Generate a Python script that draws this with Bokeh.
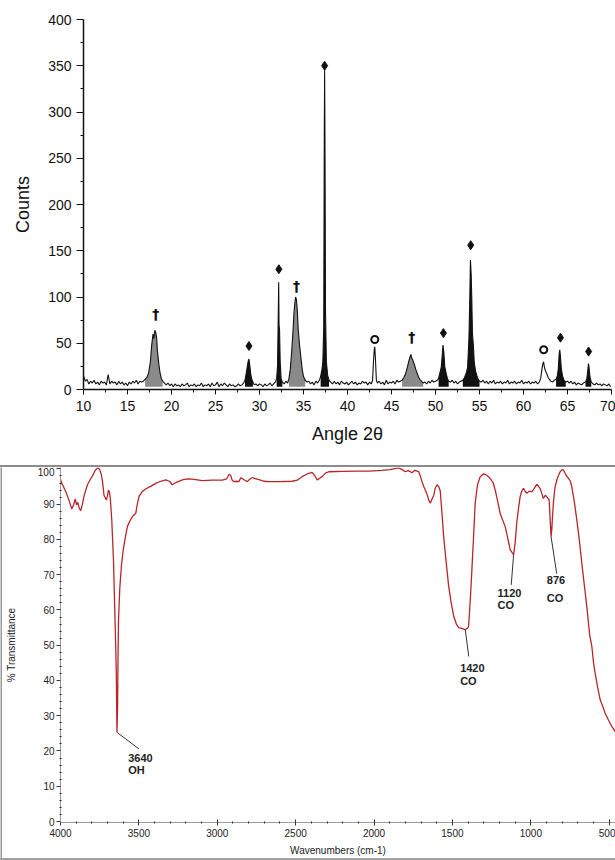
from bokeh.plotting import figure
from bokeh.layouts import column, row
from bokeh.models import FixedTicker, Range1d, Div
from bokeh.embed import file_html
from bokeh.resources import INLINE
from bokeh.core.properties import value

# ---------------- XRD data ----------------
xrd_angle = [
    10.0, 10.2, 10.4, 10.6, 10.8, 11.0, 11.2, 11.4, 11.6, 11.8,
    12.0, 12.2, 12.4, 12.6, 12.8, 13.0, 13.2, 13.4, 13.6, 13.8,
    14.0, 14.2, 14.4, 14.6, 14.8, 15.0, 15.2, 15.4, 15.6, 15.8,
    16.0, 16.2, 16.4, 16.6,
    16.8, 17.0, 17.2, 17.4, 17.6, 17.75, 17.9, 18.0, 18.1, 18.2, 18.3, 18.4, 18.55, 18.7, 18.85, 19.0, 19.2,
    19.4, 19.6, 19.8, 20.0, 20.2, 20.4, 20.6, 20.8, 21.0, 21.2,
    21.4, 21.6, 21.8, 22.0, 22.2, 22.4, 22.6, 22.8, 23.0, 23.2,
    23.4, 23.6, 23.8, 24.0, 24.2, 24.4, 24.6, 24.8, 25.0, 25.2,
    25.4, 25.6, 25.8, 26.0, 26.2, 26.4, 26.6, 26.8, 27.0, 27.2,
    27.4, 27.6, 27.8, 28.0, 28.2,
    28.35, 28.5, 28.6, 28.7, 28.8, 28.9, 29.0, 29.1, 29.25,
    29.4, 29.6, 29.8, 30.0, 30.2, 30.4, 30.6, 30.8, 31.0, 31.2, 31.4, 31.6, 31.8,
    31.95, 32.05, 32.12, 32.18, 32.22, 32.28, 32.35, 32.45, 32.6,
    32.8, 33.0, 33.2,
    33.35, 33.5, 33.65, 33.8, 33.9, 34.0, 34.1, 34.2, 34.3, 34.4, 34.55, 34.7, 34.85, 35.0, 35.2, 35.4,
    35.6, 35.8, 36.0, 36.2, 36.4, 36.6, 36.8,
    36.95, 37.1, 37.2, 37.3, 37.36, 37.4, 37.44, 37.5, 37.6, 37.75, 37.9,
    38.1, 38.3, 38.5, 38.7, 38.9, 39.1, 39.3, 39.5, 39.7, 39.9,
    40.1, 40.3, 40.5, 40.7, 40.9, 41.1, 41.3, 41.5, 41.7, 41.9,
    42.1, 42.3, 42.5, 42.7,
    42.85, 42.95, 43.05, 43.1, 43.18, 43.28, 43.4,
    43.6, 43.8, 44.0, 44.2, 44.4, 44.6, 44.8, 45.0, 45.2, 45.4, 45.6, 45.8, 46.0,
    46.2, 46.4, 46.6, 46.8, 46.95, 47.1, 47.2, 47.3, 47.45, 47.6, 47.75, 47.9, 48.05, 48.2, 48.4, 48.6,
    48.8, 49.0, 49.2, 49.4, 49.6, 49.8, 50.0, 50.2,
    50.35, 50.5, 50.65, 50.75, 50.85, 50.95, 51.05, 51.2, 51.35, 51.5,
    51.7, 51.9, 52.1, 52.3, 52.5, 52.7, 52.9,
    53.1, 53.3, 53.5, 53.65, 53.8, 53.9, 53.97, 54.05, 54.12, 54.2, 54.3, 54.4, 54.55, 54.7, 54.85, 55.0,
    55.2, 55.4, 55.6, 55.8, 56.0, 56.2, 56.4, 56.6, 56.8, 57.0,
    57.2, 57.4, 57.6, 57.8, 58.0, 58.2, 58.4, 58.6, 58.8, 59.0,
    59.2, 59.4, 59.6, 59.8, 60.0, 60.2, 60.4, 60.6, 60.8, 61.0,
    61.2, 61.4, 61.6, 61.8,
    61.95, 62.1, 62.2, 62.28, 62.38, 62.5, 62.65, 62.8, 62.95, 63.1,
    63.3, 63.5,
    63.7, 63.85, 63.95, 64.05, 64.12, 64.2, 64.3, 64.45, 64.6, 64.8,
    65.0, 65.2, 65.4, 65.6, 65.8, 66.0, 66.2, 66.4, 66.6, 66.8,
    67.05, 67.2, 67.3, 67.38, 67.45, 67.55, 67.7,
    67.9, 68.1, 68.3, 68.5, 68.7, 68.9, 69.1, 69.3, 69.5, 69.7, 69.9,
]
xrd_counts = [
    15, 9, 11, 6, 9, 7, 10, 6, 8, 5,
    9, 7, 8, 5, 16, 6, 9, 7, 8, 5,
    9, 6, 8, 5, 7, 4, 8, 6, 9, 7,
    10, 6, 9, 8,
    9, 11, 13, 18, 30, 48, 60, 55, 64, 62, 57, 42, 28, 18, 12, 9, 7,
    5, 7, 4, 6, 3, 6, 4, 5, 3, 6,
    4, 5, 7, 3, 5, 4, 6, 3, 5, 4,
    7, 3, 5, 4, 6, 3, 7, 4, 5, 8,
    3, 6, 4, 7, 5, 3, 6, 4, 5, 3,
    4, 6, 4, 5, 7,
    10, 18, 24, 30, 33, 26, 17, 12, 8,
    5, 6, 4, 6, 5, 3, 6, 4, 5, 7, 4, 6, 8,
    12, 25, 72, 116, 70, 64, 30, 12, 8,
    6, 9, 7,
    12, 22, 40, 62, 80, 92, 100, 97, 85, 65, 48, 35, 22, 14, 10, 8,
    9, 6, 8, 5, 9, 7, 10,
    14, 22, 30, 68, 270, 345, 272, 85, 30, 15, 10,
    8, 6, 9, 6, 8, 5, 9, 7, 6, 8,
    5, 7, 9, 6, 8, 5, 7, 6, 9, 7,
    8, 5, 8, 6,
    10, 30, 44, 46, 32, 10, 7,
    9, 6, 8, 5, 10, 6, 8, 7, 9, 6, 10, 8, 9,
    10, 13, 17, 24, 30, 35, 38, 34, 31, 27, 22, 18, 14, 11, 9, 7,
    8, 6, 9, 7, 10, 8, 9, 10,
    12, 18, 24, 35, 48, 40, 25, 18, 12, 9,
    8, 10, 7, 9, 6, 8, 9,
    10, 13, 18, 24, 55, 100, 140, 125, 100, 60, 48, 30, 20, 15, 11, 9,
    8, 10, 7, 9, 6, 9, 7, 10, 6, 8,
    7, 9, 6, 8, 7, 10, 6, 8, 7, 9,
    6, 8, 7, 10, 6, 8, 7, 9, 6, 8,
    7, 9, 6, 8,
    12, 22, 28, 30, 24, 20, 17, 13, 11, 9,
    8, 10,
    11, 15, 22, 38, 43, 36, 22, 14, 10, 8,
    9, 7, 9, 6, 8, 5, 7, 6, 5, 7,
    8, 12, 20, 28, 24, 14, 8,
    6, 5, 7, 5, 6, 4, 6, 5, 4, 6, 3,
]
assert len(xrd_angle) == len(xrd_counts)

fill_start = [17.0, 28.35, 31.95, 33.35, 36.95, 46.2, 50.35, 53.1, 63.7, 67.05]
fill_end = [19.0, 29.25, 32.6, 35.2, 37.9, 48.6, 51.5, 55.0, 64.8, 67.7]
fill_kind = ["gray", "black", "black", "gray", "black", "gray", "black", "black", "black", "black"]
fill_base = 3

diamond_angle = [28.8, 32.2, 37.4, 50.9, 54.0, 64.2, 67.4]
diamond_counts = [47, 130, 350, 61, 156, 56, 41]
dagger_angle = [18.2, 34.2, 47.3]
dagger_counts = [82, 112, 57]
circle_angle = [43.1, 62.3]
circle_counts = [54, 43]

xrd_xticks = [10, 15, 20, 25, 30, 35, 40, 45, 50, 55, 60, 65, 70]
xrd_xminor = [12.5, 17.5, 22.5, 27.5, 32.5, 37.5, 42.5, 47.5, 52.5, 57.5, 62.5, 67.5]
xrd_yticks = [0, 50, 100, 150, 200, 250, 300, 350, 400]
xrd_yminor = [25, 75, 125, 175, 225, 275, 325, 375]

# ---------------- IR data ----------------
ir_wavenumber = [
    4000, 3992, 3966, 3945, 3928, 3915, 3906, 3898, 3890, 3880, 3871, 3860, 3849, 3828, 3810,
    3796, 3780, 3764, 3750, 3740, 3732, 3722, 3707, 3700, 3694, 3688, 3682, 3673, 3662, 3655,
    3648, 3644, 3640, 3636, 3633, 3630, 3622, 3612, 3600, 3594, 3585, 3573, 3560, 3541, 3520,
    3510, 3499, 3480, 3457, 3420, 3393, 3360, 3329, 3305, 3287, 3260, 3223, 3190, 3159, 3096,
    3030, 2968, 2940, 2925, 2915, 2905, 2894, 2875, 2862, 2850, 2841, 2825, 2809, 2790, 2777,
    2740, 2700, 2671, 2600, 2522, 2490, 2459, 2430, 2395, 2380, 2363, 2345, 2331, 2310, 2289,
    2200, 2100, 2034, 1950, 1900, 1843, 1820, 1801, 1780, 1758, 1740, 1715, 1705, 1694, 1683,
    1673, 1660, 1650, 1641, 1630, 1620, 1610, 1599, 1588, 1578, 1566, 1556, 1540, 1524, 1508,
    1492, 1475, 1460, 1440, 1418, 1405, 1397, 1386, 1376, 1365, 1355, 1340, 1323, 1302, 1280,
    1259, 1240, 1227, 1210, 1196, 1180, 1164, 1148, 1132, 1120, 1110, 1100, 1090, 1078, 1068,
    1057, 1047, 1036, 1026, 1010, 994, 978, 962, 950, 941, 930, 920, 908, 898, 888,
    883, 876, 871, 866, 863, 855, 845, 830, 813, 800, 792, 775, 760, 748, 739,
    722, 707, 690, 675, 660, 643, 625, 611, 600, 590, 575, 558, 540, 527, 505,
    484, 460,
]
ir_transmittance = [
    97, 96, 93.5, 91, 88.6, 90, 91.5, 89.8, 90.5, 88.8, 88.2, 90, 92.5, 95.5, 97,
    98, 99.5, 100.3, 99.8, 98.5, 96.4, 92.4, 91.2, 92.5, 94, 93.5, 91.5, 85.5, 74, 62,
    50, 42, 25.3, 31.7, 46.8, 57, 66, 72.3, 77, 78.5, 81, 83.7, 85, 86.5, 87.4,
    90, 92.2, 93.5, 94.3, 95.2, 95.9, 96.5, 96.9, 96.5, 95.5, 96.2, 96.9, 97.2, 97.1, 96.7,
    96.8, 96.8, 97.2, 98.5, 98.2, 96.8, 96.4, 96.5, 96.4, 97.5, 97.3, 96.8, 96.4, 97.2, 97.5,
    97, 96.5, 96.4, 96.4, 96.5, 96.8, 97.8, 98.5, 99, 98.2, 96.9, 97.4, 97.8, 98.8, 99.2,
    99.3, 99.4, 99.4, 99.6, 99.8, 100.3, 99.8, 99.2, 99.5, 98.9, 99.6, 99.2, 98, 96.4, 95,
    94, 92.5, 91, 90.3, 91.5, 92.4, 94.5, 95.5, 95, 93.8, 87, 80.8, 73.5, 66.7, 62,
    58.2, 56, 55, 54.8, 54.4, 54.8, 55.3, 63, 71.4, 81, 90.3, 95.5, 97.8, 98.6, 98.2,
    97.3, 96, 94, 90.5, 87.4, 85.5, 83.7, 80.5, 77.1, 76.3, 75.6, 79, 84.6, 89, 92.2,
    93.8, 94.5, 93.6, 93.1, 93.7, 93.5, 94.5, 95.6, 95, 94.5, 93, 91.6, 92.5, 92.1, 91.5,
    91.2, 85, 80.8, 83, 85.6, 91, 95, 97.5, 99.2, 99.8, 99.7, 98.2, 97.3, 96.5, 95,
    90.5, 85.6, 79.5, 73.3, 67.5, 61, 53, 49.7, 45, 42.1, 38.3, 34.6, 32.5, 30.8, 28.8,
    27, 25.4,
]
assert len(ir_wavenumber) == len(ir_transmittance)

ir_xticks = [4000, 3500, 3000, 2500, 2000, 1500, 1000, 500]
ir_xminor = [w for w in range(4000, 400, -100) if w % 500 != 0]
ir_yticks = [0, 10, 20, 30, 40, 50, 60, 70, 80, 90, 100]
ir_yminor = [t for t in range(0, 101, 2) if t % 10 != 0]

ann_label = ["3640", "1420", "1120", "876"]
ann_group = ["OH", "CO", "CO", "CO"]
ann_x = [3568, 1451, 1212, 898]
ann_y1 = [18.1, 43.6, 64.8, 68.5]
ann_y2 = [14.7, 39.9, 61.4, 63.4]
lead_x0 = [3640, 1418, 1110, 871]
lead_y0 = [25.3, 54.4, 75.6, 80.8]
lead_x1 = [3500, 1396, 1125, 835]
lead_y1 = [20.6, 46.8, 67.1, 70.3]

FONT = "Liberation Sans"

# ---------------- XRD figure ----------------
p1 = figure(width=615, height=465, x_range=Range1d(10, 70), y_range=Range1d(0, 400),
            output_backend="svg", toolbar_location=None,
            min_border_left=83, min_border_right=4, min_border_top=19, min_border_bottom=76)
p1.frame_align = False
p1.outline_line_color = None
p1.grid.visible = False
p1.background_fill_color = "white"
p1.border_fill_color = "white"

for s, e, k in zip(fill_start, fill_end, fill_kind):
    xs = [a for a in xrd_angle if s <= a <= e]
    ys = [c for a, c in zip(xrd_angle, xrd_counts) if s <= a <= e]
    col = "#8a8a8a" if k == "gray" else "#111111"
    p1.varea(x=xs, y1=[fill_base] * len(xs), y2=ys, fill_color=col)

p1.line(xrd_angle, xrd_counts, line_color="#111111", line_width=1.1)

p1.scatter(diamond_angle, diamond_counts, marker="diamond", size=9, fill_color="#111111", line_color="#111111")
p1.text(dagger_angle, dagger_counts, text=["†"] * len(dagger_angle), text_font=value("DejaVu Sans"),
        text_font_size="14px", text_font_style="bold", text_align="center", text_baseline="middle",
        text_color="#111111")
p1.scatter(circle_angle, circle_counts, marker="circle", size=7, fill_color="white",
           line_color="#111111", line_width=2)

p1.xaxis.ticker = FixedTicker(ticks=xrd_xticks, minor_ticks=xrd_xminor)
p1.yaxis.ticker = FixedTicker(ticks=xrd_yticks, minor_ticks=xrd_yminor)
for ax in (p1.xaxis[0], p1.yaxis[0]):
    ax.axis_line_color = "#111111"
    ax.axis_line_width = 1.5
    ax.major_tick_line_color = "#111111"
    ax.minor_tick_line_color = "#111111"
    ax.major_tick_in = 0
    ax.minor_tick_in = 0
    ax.major_label_text_font = FONT
    ax.major_label_text_font_size = "14px"
    ax.major_label_text_color = "#111111"
    ax.axis_label_text_font = FONT
    ax.axis_label_text_font_size = "18px"
    ax.axis_label_text_font_style = "normal"
    ax.axis_label_text_color = "#111111"
p1.yaxis.major_tick_out = 7
p1.yaxis.minor_tick_out = 3
p1.xaxis.major_tick_out = 5
p1.xaxis.minor_tick_out = 3
p1.yaxis.major_label_standoff = 5
p1.xaxis.major_label_standoff = 6
p1.yaxis.axis_label = "Counts"
p1.xaxis.axis_label = "Angle 2θ"
p1.yaxis.axis_label_standoff = 12
p1.xaxis.axis_label_standoff = 10

# ---------------- IR figure ----------------
p2 = figure(width=613, height=391, x_range=Range1d(4000, 460), y_range=Range1d(-0.28, 100.4),
            output_backend="svg", toolbar_location=None,
            min_border_left=56, min_border_right=0, min_border_top=0, min_border_bottom=35)
p2.frame_align = False
p2.outline_line_color = None
p2.grid.visible = False
p2.background_fill_color = "white"
p2.border_fill_color = "white"

p2.line(ir_wavenumber, ir_transmittance, line_color="#b8262a", line_width=1.3)
p2.segment(lead_x0, lead_y0, lead_x1, lead_y1, line_color="#333333", line_width=1)
p2.text(ann_x, ann_y1, text=ann_label, text_font=value(FONT), text_font_size="11px",
        text_font_style="bold", text_align="left", text_baseline="middle", text_color="#222222")
p2.text(ann_x, ann_y2, text=ann_group, text_font=value(FONT), text_font_size="11px",
        text_font_style="bold", text_align="left", text_baseline="middle", text_color="#222222")

p2.xaxis.ticker = FixedTicker(ticks=ir_xticks, minor_ticks=ir_xminor)
p2.yaxis.ticker = FixedTicker(ticks=ir_yticks, minor_ticks=ir_yminor)
for ax in (p2.xaxis[0], p2.yaxis[0]):
    ax.axis_line_color = "#9a9a9a"
    ax.axis_line_width = 1
    ax.major_tick_line_color = "#333333"
    ax.minor_tick_line_color = "#222222"
    ax.major_label_text_font = FONT
    ax.major_label_text_font_size = "10px"
    ax.major_label_text_color = "#222222"
    ax.axis_label_text_font = FONT
    ax.axis_label_text_font_size = "10px"
    ax.axis_label_text_font_style = "normal"
    ax.axis_label_text_color = "#222222"
p2.xaxis.major_tick_in = 3
p2.xaxis.major_tick_out = 3
p2.xaxis.minor_tick_in = 1
p2.xaxis.minor_tick_out = 1
p2.yaxis.major_tick_in = 0
p2.yaxis.major_tick_out = 4
p2.yaxis.minor_tick_in = 1
p2.yaxis.minor_tick_out = 1
p2.yaxis.major_label_standoff = 2
p2.xaxis.major_label_standoff = 3
p2.xaxis.axis_label = "Wavenumbers (cm-1)"
p2.yaxis.axis_label = "% Transmittance"
p2.xaxis.axis_label_standoff = 5
p2.yaxis.axis_label_standoff = 18

# thin gray frame around the IR panel
left_bar = figure(width=2, height=391, output_backend="svg", toolbar_location=None,
                  x_axis_type=None, y_axis_type=None, min_border=0,
                  min_border_left=0, min_border_right=0, min_border_top=0, min_border_bottom=0)
left_bar.frame_align = False
left_bar.outline_line_color = None
left_bar.grid.visible = False
left_bar.background_fill_color = "#9a9a9a"
left_bar.border_fill_color = "#9a9a9a"

top_bar = Div(text="", width=615, height=2, margin=(0, 0, 0, 0),
              styles={"background-color": "#8c8c8c", "overflow": "hidden"})
bottom_bar = Div(text="", width=615, height=2, margin=(0, 0, 0, 0),
                 styles={"background-color": "#a0a0a0", "overflow": "hidden"})

layout = column(p1, top_bar, row(left_bar, p2, spacing=0), bottom_bar, spacing=0)
open("out.html", "w").write(file_html(layout, INLINE))
